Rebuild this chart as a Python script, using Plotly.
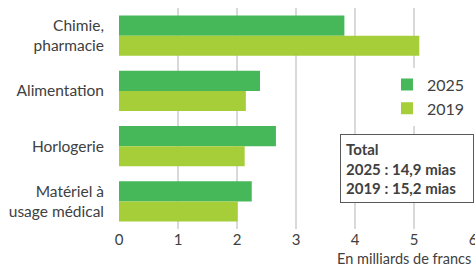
import plotly.graph_objects as go

categories = ["Chimie,<br>pharmacie", "Alimentation", "Horlogerie", "Matériel à<br>usage médical"]
values_2025 = [3.82, 2.39, 2.66, 2.25]
values_2019 = [5.09, 2.15, 2.13, 2.01]
x_ticks = [0, 1, 2, 3, 4, 5, 6]

C2025 = "#47B85A"
C2019 = "#A6CE39"
TXT = "#404040"
FONT = "Lato, Open Sans, sans-serif"

fig = go.Figure()
fig.add_trace(go.Bar(y=categories, x=values_2025, name="2025", orientation="h",
                     marker=dict(color=C2025, line=dict(width=0))))
fig.add_trace(go.Bar(y=categories, x=values_2019, name="2019", orientation="h",
                     marker=dict(color=C2019, line=dict(width=0))))

fig.update_layout(
    width=475, height=267,
    margin=dict(l=119, r=2, t=8, b=38, autoexpand=False),
    paper_bgcolor="white", plot_bgcolor="white",
    font=dict(family=FONT, size=15, color=TXT),
    barmode="group", bargap=0.27, bargroupgap=0,
    legend=dict(x=0.757, y=0.73, xanchor="left", yanchor="top",
                bgcolor="white", font=dict(size=16, color=TXT),
                traceorder="normal", itemwidth=30),
    xaxis=dict(range=[0, 6], tickvals=x_ticks, showgrid=True, gridcolor="#D9D9D9",
               gridwidth=1.5, zeroline=False, showline=False, ticks="", automargin=False,
               ticklabeloverflow="allow", tickfont=dict(size=15, color=TXT)),
    yaxis=dict(autorange="reversed", showgrid=False, zeroline=False, showline=False,
               ticks="", ticklabelstandoff=14, automargin=False,
               tickfont=dict(size=15.5, color=TXT)),
    annotations=[
        dict(text="En milliards de francs", xref="paper", yref="paper", x=1.0, y=-0.135,
             xanchor="right", yanchor="middle", showarrow=False,
             font=dict(size=14.5, color=TXT)),
        dict(text="<b>Total<br>2025 : 14,9 mias<br>2019 : 15,2 mias</b>", xref="paper", yref="paper",
             x=0.624, y=0.43, xanchor="left", yanchor="top", showarrow=False, align="left",
             bordercolor="#595959", borderwidth=1, borderpad=5, bgcolor="white",
             font=dict(size=15, color=TXT), width=122),
    ],
)

fig.write_html("out.html", config={"displayModeBar": False},
               post_script="document.body.style.margin='0';document.body.style.overflow='hidden';")
